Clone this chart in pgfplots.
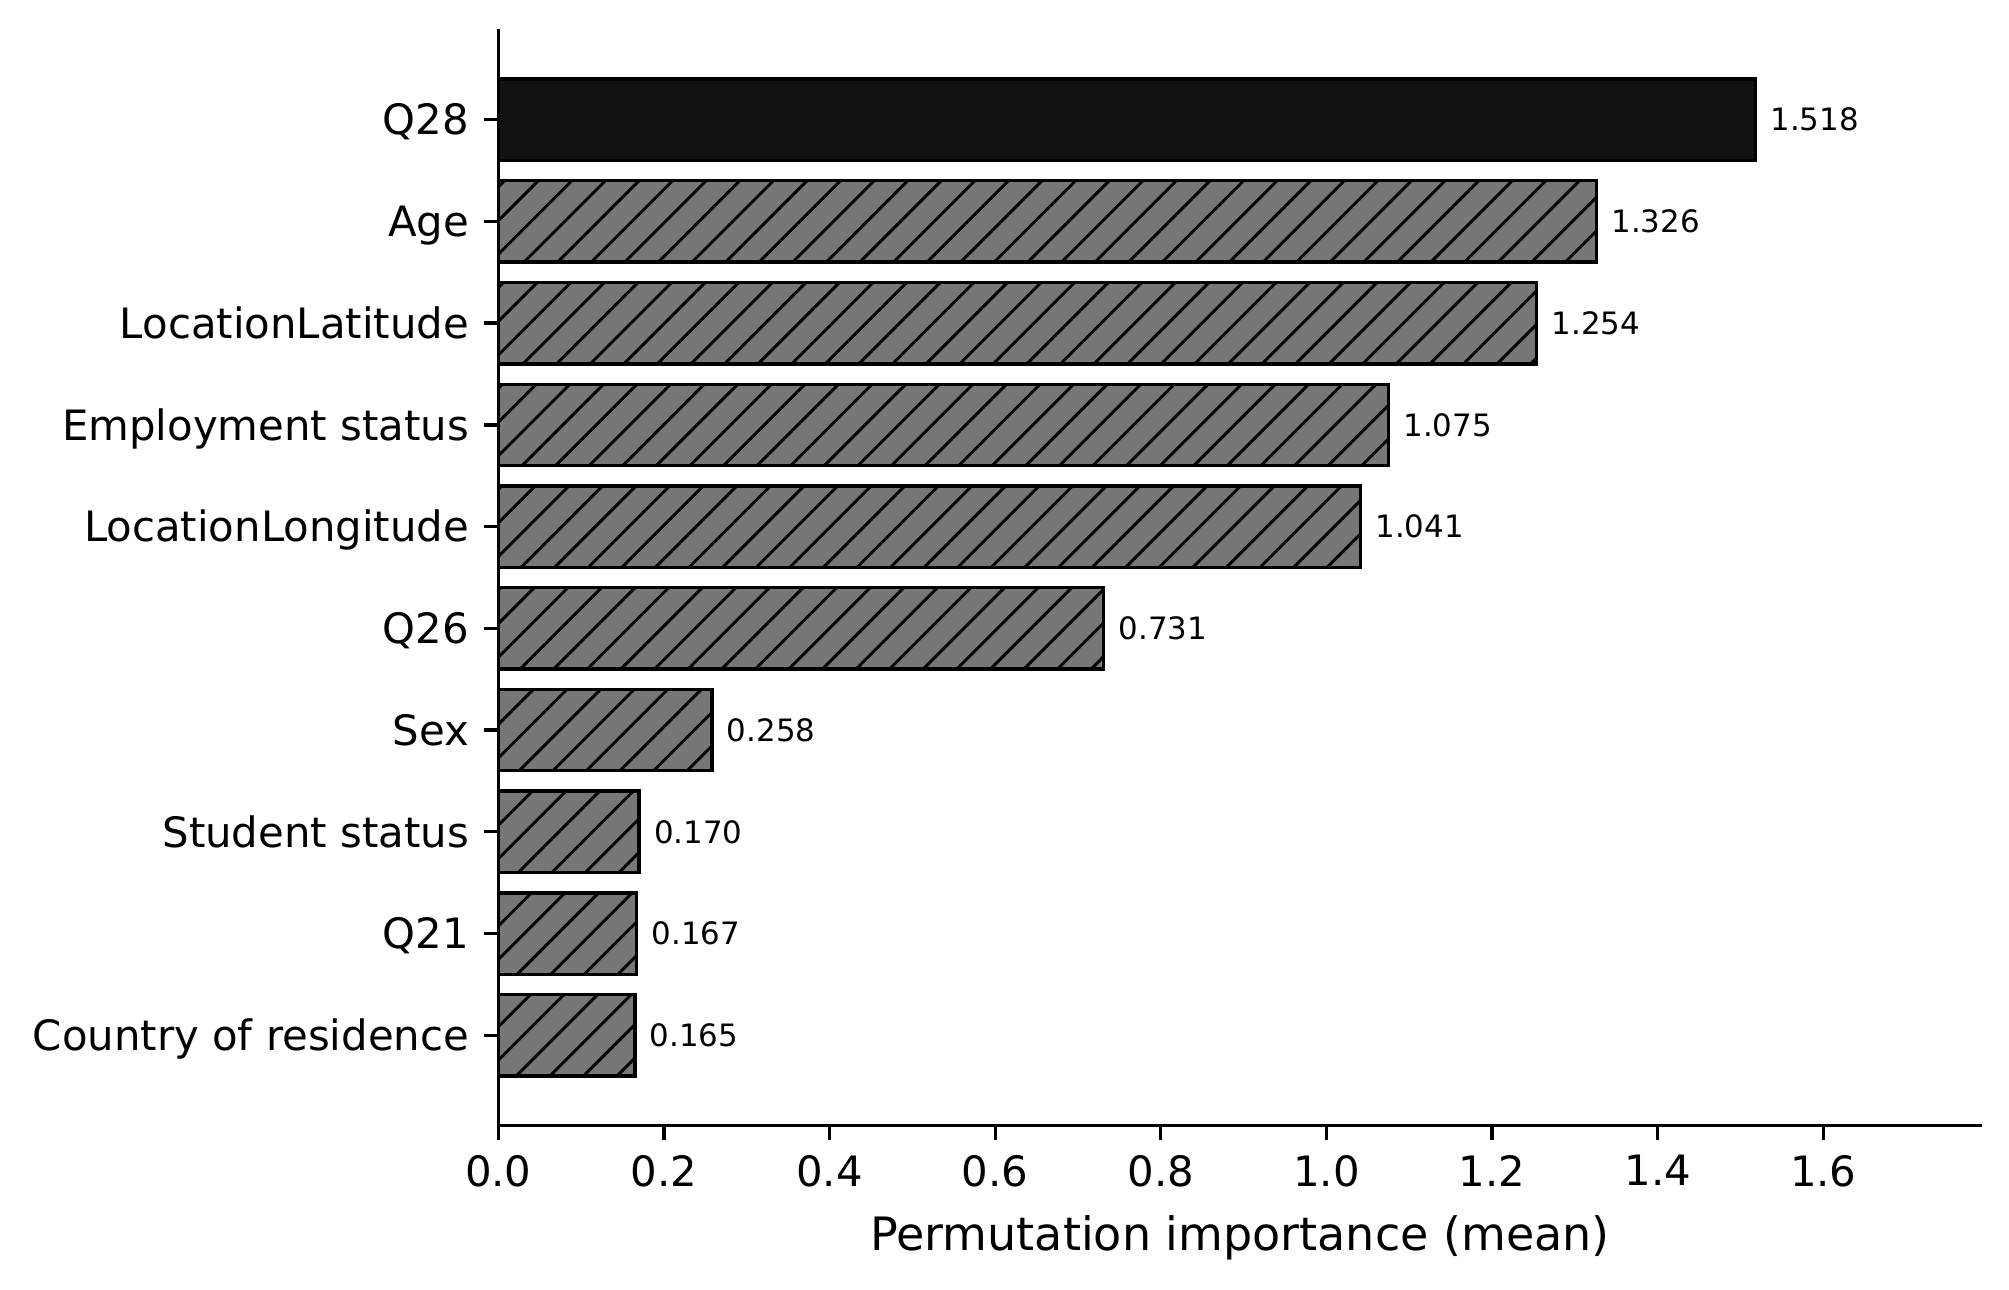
\documentclass[border=0pt]{standalone}
\usepackage{fontspec}
\setmainfont{DejaVu Sans}
\usepackage{pgfplots}
\pgfplotsset{compat=1.18}
\usetikzlibrary{patterns.meta}
\definecolor{barblack}{HTML}{111111}
\definecolor{bargray}{HTML}{777777}
\begin{document}
\begin{tikzpicture}
\path[use as bounding box] (-119.6pt,-39.4pt) rectangle (362.56pt,270.2pt);
\begin{axis}[
  at={(0,0)}, anchor=south west,
  scale only axis, width=356pt, height=263.2pt,
  xbar, bar width=0.8, bar shift=0pt,
  xmin=0, xmax=1.7912, ymin=-0.89, ymax=9.89,
  axis x line*=bottom, axis y line*=left,
  axis line style={line width=0.8pt, -},
  xtick={0,0.2,0.4,0.6,0.8,1.0,1.2,1.4,1.6},
  xticklabels={0.0,0.2,0.4,0.6,0.8,1.0,1.2,1.4,1.6},
  ytick={0,1,2,3,4,5,6,7,8,9},
  yticklabels={Country of residence,Q21,Student status,Sex,Q26,LocationLongitude,Employment status,LocationLatitude,Age,Q28},
  tick align=outside, major tick length=3.5pt,
  tick style={line width=0.8pt, black},
  ticklabel style={font=\fontsize{10.04}{12}\selectfont},
  yticklabel style={anchor=base east, yshift=-3.66pt},
  xlabel={Permutation importance (mean)},
  xlabel style={font=\fontsize{11.04}{13}\selectfont},
  nodes near coords,
  nodes near coords style={font=\fontsize{7.4}{9}\selectfont, anchor=west, inner sep=0pt, xshift=3.2pt, text=black},
  /pgf/number format/fixed,
  /pgf/number format/precision=3,
  /pgf/number format/fixed zerofill,
  /pgf/number format/assume math mode=true,
]
\addplot[fill=bargray, draw=black, line width=0.8pt,
  postaction={pattern={Lines[angle=45,distance=5.7pt,line width=0.7pt]}, pattern color=black}]
  coordinates {(0.165,0) (0.167,1) (0.170,2) (0.258,3) (0.731,4) (1.041,5) (1.075,6) (1.254,7) (1.326,8)};
\addplot[fill=barblack, draw=black, line width=0.8pt]
  coordinates {(1.518,9)};
\end{axis}
\end{tikzpicture}
\end{document}
